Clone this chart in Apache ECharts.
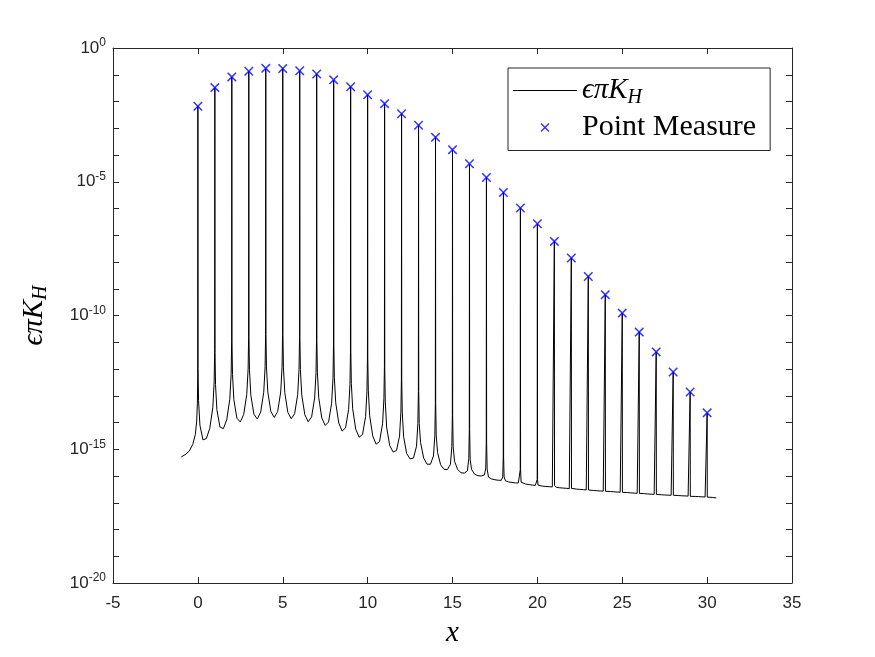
<!DOCTYPE html>
<html>
<head>
<meta charset="utf-8">
<script src="https://cdn.jsdelivr.net/npm/echarts@6/dist/echarts.min.js"></script>
<style>
html, body { margin: 0; padding: 0; background: #fff; }
#chart { width: 875px; height: 657px; }
</style>
</head>
<body>
<div id="chart"></div>
<script>
// values, as log10 exponents (y axis is drawn in decades)
const peakX = [0, 1, 2, 3, 4, 5, 6, 7, 8, 9, 10, 11, 12, 13, 14, 15, 16, 17, 18, 19, 20, 21, 22, 23, 24, 25, 26, 27, 28, 29, 30];
const peakExp = [-2.18, -1.48, -1.08, -0.87, -0.76, -0.77, -0.85, -0.97, -1.19, -1.45, -1.75, -2.08, -2.46, -2.89, -3.34,
  -3.80, -4.33, -4.84, -5.40, -5.98, -6.57, -7.23, -7.85, -8.54, -9.22, -9.91, -10.62, -11.36, -12.11, -12.86, -13.64];

// curve left of the first peak
const leadX = [-0.98, -0.7, -0.5, -0.3, -0.15, -0.07, -0.03, -0.01];
const leadExp = [-15.29, -15.18, -15.06, -14.82, -14.45, -13.95, -13.3, -12.3];

// curve between peak k and k+1, sampled at k + gapOffsets
const gapOffsets = [0.01, 0.04, 0.12, 0.3, 0.5, 0.7, 0.88, 0.96, 0.99];
const gapExp = [
  [-11.98, -13.18, -14.10, -14.65, -14.60, -14.22, -13.44, -12.48, -11.28],
  [-11.38, -12.58, -13.52, -14.17, -14.23, -13.90, -13.13, -12.18, -10.98],
  [-11.00, -12.20, -13.15, -13.84, -13.98, -13.70, -12.95, -12.00, -10.80],
  [-10.83, -12.03, -12.98, -13.69, -13.87, -13.61, -12.87, -11.92, -10.72],
  [-10.71, -11.92, -12.86, -13.59, -13.81, -13.59, -12.86, -11.92, -10.71],
  [-10.72, -11.93, -12.88, -13.62, -13.86, -13.67, -12.95, -12.01, -10.80],
  [-10.82, -12.02, -12.97, -13.71, -13.97, -13.79, -13.08, -12.14, -10.93],
  [-10.92, -12.12, -13.07, -13.83, -14.11, -13.98, -13.28, -12.34, -11.14],
  [-11.11, -12.31, -13.26, -14.02, -14.32, -14.20, -13.51, -12.57, -11.37],
  [-11.33, -12.54, -13.49, -14.25, -14.55, -14.45, -13.78, -12.84, -11.63],
  [-11.59, -12.79, -13.74, -14.50, -14.81, -14.72, -14.05, -13.11, -11.91],
  [-12.03, -13.23, -14.17, -14.86, -15.10, -15.05, -14.51, -13.61, -12.41],
  [-12.41, -13.61, -14.53, -15.16, -15.36, -15.33, -14.89, -14.03, -12.84],
  [-12.84, -14.04, -14.75, -15.33, -15.56, -15.56, -15.25, -14.47, -13.29],
  [-13.29, -14.47, -15.12, -15.58, -15.75, -15.76, -15.56, -14.90, -13.75],
  [-13.75, -14.91, -15.45, -15.75, -15.88, -15.89, -15.80, -15.35, -14.27],
  [-14.27, -15.37, -15.75, -15.93, -15.99, -16.00, -15.96, -15.70, -14.77],
  [-14.77, -15.74, -16.04, -16.11, -16.14, -16.16, -16.16, -16.03, -15.29],
  [-15.29, -16.04, -16.18, -16.22, -16.24, -16.26, -16.26, -16.22, -15.77],
  [-15.77, -16.23, -16.28, -16.30, -16.32, -16.34, -16.35, -16.34, -16.13],
  [-16.13, -16.34, -16.37, -16.38, -16.39, -16.40, -16.41, -16.415, -16.35],
  [-16.35, -16.42, -16.425, -16.44, -16.45, -16.46, -16.47, -16.48, -16.46],
  [-16.46, -16.48, -16.485, -16.49, -16.50, -16.51, -16.52, -16.53, -16.525],
  [-16.525, -16.53, -16.535, -16.54, -16.55, -16.56, -16.565, -16.57, -16.57],
  [-16.57, -16.57, -16.575, -16.58, -16.59, -16.60, -16.605, -16.61, -16.61],
  [-16.61, -16.61, -16.615, -16.62, -16.63, -16.64, -16.645, -16.65, -16.65],
  [-16.65, -16.65, -16.655, -16.66, -16.67, -16.68, -16.685, -16.69, -16.69],
  [-16.69, -16.69, -16.695, -16.70, -16.71, -16.715, -16.72, -16.72, -16.72],
  [-16.72, -16.72, -16.725, -16.73, -16.74, -16.745, -16.75, -16.755, -16.76],
  [-16.76, -16.76, -16.76, -16.765, -16.77, -16.78, -16.785, -16.79, -16.79]
];

// curve right of the last peak
const tailX = [30.01, 30.04, 30.3, 30.54];
const tailExp = [-16.79, -16.795, -16.80, -16.82];

// axis ranges, in decades for y
const xTicks = { min: -5, max: 35, step: 5 };
const yTicks = { min: -20, max: 0, step: 1, labelEvery: 5 };

const lineName = 'epsPiKH';
const markName = 'Point Measure';

const lineData = [];
leadX.forEach((x, i) => lineData.push([x, leadExp[i]]));
peakX.forEach((x, k) => {
  lineData.push([x, peakExp[k]]);
  if (k < gapExp.length) {
    gapOffsets.forEach((o, i) => lineData.push([x + o, gapExp[k][i]]));
  }
});
tailX.forEach((x, i) => lineData.push([x, tailExp[i]]));

const markData = peakX.map((x, k) => [x, peakExp[k]]);

const axisColor = '#262626';
const tickFont = 'Liberation Sans, Arial, sans-serif';
const texFont = 'Liberation Serif, DejaVu Serif, serif';

const crossPath = 'path://M0,1.1L1.1,0L5,3.9L8.9,0L10,1.1L6.1,5L10,8.9L8.9,10L5,6.1L1.1,10L0,8.9L3.9,5Z';
const dashPath = 'path://M0,0L64,0L64,1L0,1Z';

const texRich = {
  i: { fontFamily: texFont, fontSize: 29, fontStyle: 'italic', lineHeight: 34, color: '#000' },
  s: { fontFamily: texFont, fontSize: 20, fontStyle: 'italic', lineHeight: 20, verticalAlign: 'bottom', color: '#000' },
  r: { fontFamily: texFont, fontSize: 30, lineHeight: 34, color: '#000' }
};

const boxAxis = (extra) => Object.assign({
  type: 'value',
  axisLine: { show: true, onZero: false, lineStyle: { color: axisColor, width: 1 } },
  axisTick: { show: true, inside: true, length: 6, lineStyle: { color: axisColor } },
  splitLine: { show: false }
}, extra);

const chart = echarts.init(document.getElementById('chart'));

chart.setOption({
  animation: false,
  backgroundColor: '#fff',
  grid: { left: 113, top: 48, width: 679, height: 535 },
  legend: {
    orient: 'vertical',
    left: 508,
    top: 68,
    padding: [8, 14, 8, 5],
    itemGap: 5,
    itemWidth: 64,
    itemHeight: 9,
    selectedMode: false,
    borderColor: axisColor,
    borderWidth: 1,
    backgroundColor: '#fff',
    data: [{ name: lineName, icon: dashPath }, { name: markName }],
    formatter: (name) => name === lineName ? '{i|ϵπK}{s|H}' : '{r|' + name + '}',
    textStyle: { color: '#000', fontFamily: texFont, fontSize: 29, rich: texRich }
  },
  xAxis: [
    boxAxis({
      min: xTicks.min, max: xTicks.max, interval: xTicks.step,
      position: 'bottom',
      axisLabel: { color: axisColor, fontSize: 17, fontFamily: tickFont, margin: 12 },
      name: 'x',
      nameLocation: 'middle',
      nameGap: 36,
      nameTextStyle: { fontFamily: texFont, fontStyle: 'italic', fontSize: 29, color: '#000' }
    }),
    boxAxis({
      min: xTicks.min, max: xTicks.max, interval: xTicks.step,
      position: 'top',
      axisLabel: { show: false }
    })
  ],
  yAxis: [
    boxAxis({
      min: yTicks.min, max: yTicks.max, interval: yTicks.step,
      position: 'left',
      axisLabel: {
        margin: 7,
        formatter: (v) => {
          const e = Math.round(v);
          if (e % yTicks.labelEvery !== 0) return '';
          return '{b|10}{e|' + e + '}';
        },
        rich: {
          b: { fontSize: 17, lineHeight: 22, fontFamily: tickFont, color: axisColor },
          e: { fontSize: 12, lineHeight: 8, verticalAlign: 'top', fontFamily: tickFont, color: axisColor }
        }
      },
      name: '{i|ϵπK}{s|H}',
      nameLocation: 'middle',
      nameRotate: 90,
      nameGap: 62,
      nameTextStyle: { rich: texRich }
    }),
    boxAxis({
      min: yTicks.min, max: yTicks.max, interval: yTicks.step,
      position: 'right',
      axisLabel: { show: false }
    })
  ],
  series: [{
    name: lineName,
    type: 'line',
    xAxisIndex: 0,
    yAxisIndex: 0,
    data: lineData,
    showSymbol: false,
    symbol: 'none',
    silent: true,
    color: '#000',
    lineStyle: { color: '#000', width: 1 },
    z: 2
  }, {
    name: markName,
    type: 'scatter',
    xAxisIndex: 0,
    yAxisIndex: 0,
    data: markData,
    symbol: crossPath,
    symbolSize: 9.5,
    silent: true,
    itemStyle: { color: '#0000ff' },
    z: 3
  }]
});
</script>
</body>
</html>
